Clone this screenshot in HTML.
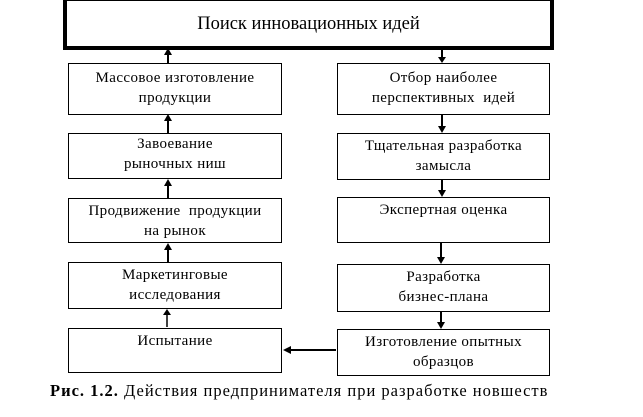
<!DOCTYPE html>
<html><head><meta charset="utf-8"><style>
body{margin:0;width:643px;height:417px;background:#fff;position:relative;overflow:hidden;font-family:"Liberation Serif","DejaVu Serif",serif;color:#000}
.b{position:absolute;border:1px solid #000;box-sizing:border-box;text-align:center;font-size:15px;letter-spacing:0.4px;line-height:20px;padding-top:4px;white-space:nowrap}
.top{position:absolute;left:63px;top:-3px;width:491px;height:53px;border:4px solid #000;box-sizing:border-box;text-align:center;font-size:18.5px;line-height:46px}
.cap{position:absolute;left:50px;top:381px;font-size:16.5px;letter-spacing:1px;white-space:nowrap}
svg{position:absolute;left:0;top:0}
</style></head><body>
<div class="top">Поиск инновационных идей</div>
<div class="b" style="left:68px;top:63px;width:214px;height:52px">Массовое изготовление<br>продукции</div>
<div class="b" style="left:68px;top:133px;width:214px;height:46px;padding-top:0">Завоевание<br>рыночных ниш</div>
<div class="b" style="left:68px;top:198px;width:214px;height:45px;padding-top:2px">Продвижение&nbsp; продукции<br>на рынок</div>
<div class="b" style="left:68px;top:262px;width:214px;height:47px;padding-top:2px">Маркетинговые<br>исследования</div>
<div class="b" style="left:68px;top:328px;width:214px;height:45px;padding-top:2px">Испытание</div>
<div class="b" style="left:337px;top:63px;width:213px;height:52px">Отбор наиболее<br>перспективных&nbsp; идей</div>
<div class="b" style="left:337px;top:133px;width:213px;height:47px;padding-top:2px">Тщательная разработка<br>замысла</div>
<div class="b" style="left:337px;top:197px;width:213px;height:46px;padding-top:2px">Экспертная оценка</div>
<div class="b" style="left:337px;top:264px;width:213px;height:48px;padding-top:2px">Разработка<br>бизнес-плана</div>
<div class="b" style="left:337px;top:329px;width:213px;height:47px;padding-top:2px">Изготовление опытных<br>образцов</div>
<svg width="643" height="417">
<g stroke="#000" stroke-width="2" fill="#000">
<line x1="168" y1="63" x2="168" y2="52"/><polygon points="164,55 172,55 168,48" stroke="none"/>
<line x1="168" y1="133" x2="168" y2="118"/><polygon points="164,121 172,121 168,114" stroke="none"/>
<line x1="168" y1="198" x2="168" y2="183"/><polygon points="164,186 172,186 168,179" stroke="none"/>
<line x1="168" y1="262" x2="168" y2="247"/><polygon points="164,250 172,250 168,243" stroke="none"/>
<line x1="167" y1="327" x2="167" y2="312" stroke-width="1.5"/><polygon points="163,315 171,315 167,309" stroke="none"/>
<line x1="442" y1="50" x2="442" y2="58"/><polygon points="438,57 446,57 442,63" stroke="none"/>
<line x1="442" y1="115" x2="442" y2="127"/><polygon points="438,126 446,126 442,133" stroke="none"/>
<line x1="442" y1="180" x2="442" y2="191"/><polygon points="438,190 446,190 442,197" stroke="none"/>
<line x1="441" y1="243" x2="441" y2="258"/><polygon points="437,257 445,257 441,264" stroke="none"/>
<line x1="441" y1="312" x2="441" y2="323"/><polygon points="437,322 445,322 441,329" stroke="none"/>
<line x1="336" y1="350" x2="290" y2="350"/><polygon points="291,346 291,354 283,350" stroke="none"/>
</g></svg>
<div class="cap"><b>Рис. 1.2.</b> Действия предпринимателя при разработке новшеств</div>
</body></html>
